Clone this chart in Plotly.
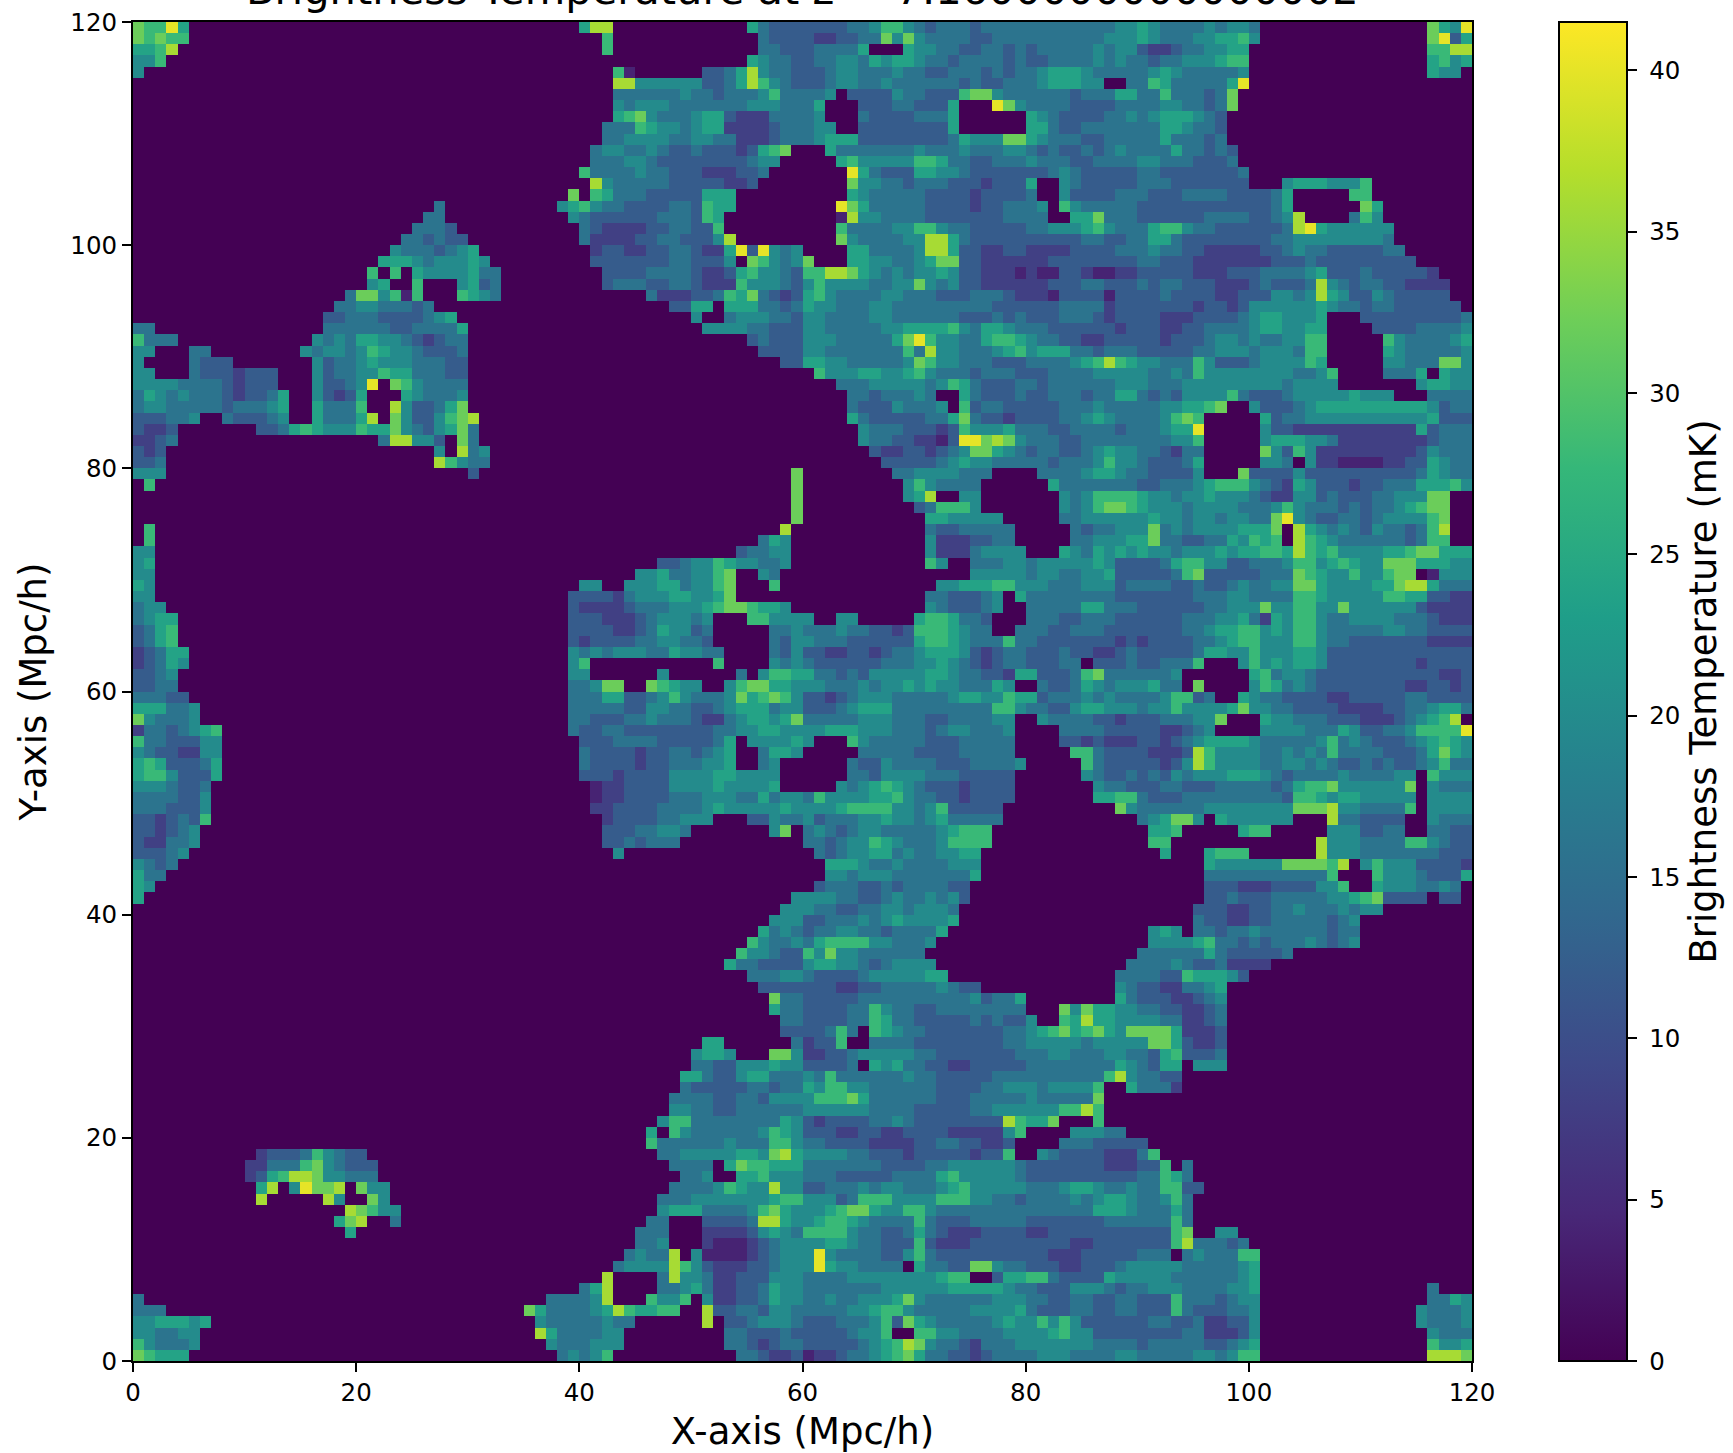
import plotly.graph_objects as go

# Brightness temperature levels, one text row per map row
# (top row first). Twelve blocks of ten cells per row, "-" = a block with nothing.
# '.' = 0 mK, digits/letter = level in steps of 4 mK (a = 40 mK).
rows_top = [
"877a6..... - - - 699....... .....64333 3333445775 4344434444 4444444455 6544445455 4......... ......865a",
"87877..... - - - ..7....... ......4333 3223344858 5444433444 4444444555 6544455667 5......... ......8a36",
"6679...... - - - ..7....... ......4433 344446...6 5544334434 3444445455 3223445566 - ......7799",
"557....... - - - - .....65443 3445546566 5443444434 3344445454 4344555677 - ......6756",
"5......... - - - ...71..... .334695443 3345544454 4334443434 4566654444 4565444445 - ......655.",
"- - - - ...9955555 5334697543 3345544544 4444343344 4566655..4 476444446a - -",
"- - - - ...4444445 4434445744 445.333354 4333788544 4444344466 447444348. - -",
"- - - - ...5455544 4444455544 46...33344 3336...a85 4444333344 445544348. - -",
"- - - - ...6785444 5663222444 45...43333 4446...... 6543333445 45666543.. - -",
"- - - - ..44476554 5662222344 455..33333 3336...... 6643344444 44665443.. - -",
"- - - - ..44555544 5544222344 4566633333 3334655588 6544433444 44644434.. - -",
"- - - - .455445433 433323678. ..64444444 5444544455 4343343454 444644343. - -",
"- - - - .444554333 33333455.. ...6755555 7764433444 5444334444 554443334. - -",
"- - - - 7444454433 3222334... ....a64333 6655433333 3345433333 4433333334 - -",
"- - - - .954444433 333223.... ....855443 4443332333 6..5433333 4443333333 ...5666555 7.........",
"- - - .........8 .764443333 3666...... ....654444 4333323333 4..5333344 4333444433 3346.....7 7.........",
"- - .......4.. ........56 7544333344 3766...... ...a864444 4333323344 45.7544444 3333333333 3346...... 86........",
"- - ......44.. .........5 4333333444 376....... ...1955444 4333333344 44..668444 3333334444 33459....4 75........",
"- - .....4443. - 4322223344 337....... ...7444455 7754433333 4455567544 4677544333 33349a6555 555.......",
"- - ....443433 - 4222233443 3359...... ...8544445 5996433333 3333344334 4664333333 3344555555 554.......",
"- - ...5444345 6......... .233223344 3226a3a545 ....664444 5996332233 2222333344 4544332222 2334544333 3344......",
"- - ..66654555 65........ .333333344 3335.87545 8...665544 5688332222 2233333333 4433322222 2233343333 33333.....",
"- - .7.7.65555 644....... ..33334444 3223675543 7799865454 5565332221 2113321122 3333322233 3444456333 4333332...",
"- - .56..7...5 634....... ..34443344 3222755543 5755554455 8545332222 2233344333 4344333222 3433349543 44332222..",
"- .........4 885717...7 654....... ......4222 3347684323 6754444554 4433344432 2213333133 3343333223 3355459653 35433333..",
"- ........44 5544434... - ........33 66.6664434 6554445544 4444444333 3334444233 3333323323 5555556544 344333333.",
"- .......334 443333456. - - 5..4555443 5544445544 4444333434 3334443233 3322233334 5665556... 3333333334",
"44........ .......444 4443344446 - - .555544333 5544444556 6667546654 4433333323 3322334444 5665566... .333344445",
"7444...... ......5454 6655432344 - - .....34333 5554444468 a755446776 5443322333 3323334554 5445577... ..75444456",
"55...44... .....54554 5765543334 - - ......3333 5544444447 4955444567 5666443444 3333344555 4555477... ..65444445",
]
rows_upper_mid = [
"5....4333. ......5344 5655544433 - - ........33 6655444445 8755444333 4444567976 5544475333 4555576... ..55444885",
"55...43332 333...5344 5576644433 - - - .755566556 7544434443 3344445555 5445475555 55554457.. ..4446.655",
"5555444432 333...5334 5a.8754444 - - - ...4445555 5457643334 4344444455 5444555555 55545555.. .....56655",
"4654544432 3346..5323 6...654445 - - - ....443444 54..643334 3344434466 4343555574 3334555556 555...4444",
"4554444434 4456..6444 7..9533468 - - - ....433354 445.734433 3334445444 44556678.. 5333456666 6666665344",
"333445..43 3345..6444 69.8533578 9......... - - ....643333 3446843323 3334456544 445787.... .634455555 5555556333",
"3223...... .334676555 7668543568 4......... - - .....54443 3323755564 4433444434 44566a.... .533222222 2222263444",
"2234...... - ..499553.8 4......... - - .....54433 2213aa8985 4443344444 444557.... .566655422 2222223444",
"323....... - .......5.9 45........ - - ......3223 3234588654 3443345655 443244.... .853752222 2222235444",
"334....... - .......975 44........ - - .......333 3345655444 4434445755 433346.... .554.52211 1122336544",
"555....... - - 3......... - .........8 ........44 5555444... .444456654 433335...8 3333533333 3333346544",
".7........ - - - - .........8 .........5 754444.... ..64444444 3344456777 5432653332 3344466675",
"- - - - - .........8 .........5 69..55.... ...5457777 6554556555 4322553433 34455588..",
"- - - - - .........8 .......... 347775.... ...5457887 6555455554 4457544434 34456788..",
"- - - - - .........8 .......... .6655555.. ...4455555 5655455455 448a543344 34555578..",
".7........ - - - - ........9. .......... .43344444. ....434455 5845455556 668.965454 35443479..",
".7........ - - - - ......465. .......... .52223344. ....445556 6844334465 767.976544 44443477..",
"55........ - - - - ....34455. .......... .522245555 ...6546565 6554555656 6776976755 5566788666",
"56........ - - - .......334 557655445. .......... .75..44455 4555556533 3346775533 4445775676 5588866655",
"55........ - - - .....55644 5578..54.. .......... .....55555 4554455633 3334783333 3444876557 55788.1555",
"65........ - - - 55..555664 5578...7.. .......... ..55666775 5544455534 4443343345 4455886555 5668996444",
"55........ - - .........3 3332455566 5568...... .......... .4433345.6 4444444433 3333344455 4444776555 5577663322",
"455....... - - .........3 2222344455 567887665. .......... .5433345.. 4444466444 3333334455 5855775585 5555532222",
"4566...... - - .........3 3322234555 45...77555 5..55..... 6776443... 4443344433 3333444556 4265775445 5554443222",
"3467...... - - .........3 3332234655 34.....445 4445443323 7776544..4 4433444333 3333445667 7565775444 4455443333",
"3467...... - - .........3 2333344554 43.....435 5444333333 6776544474 4333333323 2333344567 7555775443 3333332222",
"23466..... - - .........5 4545554465 544....435 3322332344 5666532344 3334332234 3333346655 7555665333 3333333333",
"23465..... - - .........5 7......... ..7....545 4333333444 5565432344 33344.3334 334447...5 7565665333 3333323333",
"3345...... - - .........5 5......5.. ....4.5776 6443435555 5665443326 6333478444 4445...... 6745543333 3333333223",
"3344...... - - .........4 4588..8765 5..5788665 5544454556 565544465. .433465455 5644.8.... 5764543333 3333223323",
]
rows_lower_mid = [
"44433..... - - .........4 4466334575 4445867875 3323455544 4445665576 6344454544 4457734..6 5443333223 3333443333",
"666445.... - - .........4 4444335544 3345666455 3334566644 4444444775 4433566555 4557555568 5544333322 2233445664",
"854445.... - - .........4 4333445444 3224566568 4444455544 433444455. .544443323 33444558.. .655444333 222345679.",
"24434567.. - - .........4 3344333333 3344556655 5566655544 434554445. ...4444333 3322345... .555544465 334457777a",
"74433355.. - - - 3334444333 3346.55556 5...754444 433344444. ...3323222 3323456666 5444445745 4333456765",
"54332255.. - - - 4333323344 3456..4665 .....44444 333344444. ....774333 3222397555 5445454744 4433346865",
"67633346.. - - - 4333323344 4556..45.. ....433544 4433344445 .....74333 3323597555 5445545433 4343345744",
"67753336.. - - - 3332333355 55665555.. ....443555 544433333. .....54334 3435455566 6543444454 44455.7555",
"5554334... - - - .122333355 55655556.. ...5456765 433323333. ......5443 3344333444 4434677855 55558.5444",
"4444335... - - - .122333344 4555446455 4755556675 443323333. ......6677 4333444444 4443776566 55555.5555",
"4443335... - - - .223333444 4565555565 5556777755 45733333.. ........85 4444445555 5555888955 44447.5555",
"3323437... - - - ..23333445 55...33544 5344455655 45644444.. - 456885.655 5555...944 3333..5444",
"332345.... - - - ..33344554 .......58. 4543455444 4456777... - .667.....6 77.....555 3344..4433",
"322445.... - - - ..3343444. - 4434557654 4457777... - .77....... ......9555 4444775433",
"33345..... - - - ...5...... - .434556645 445566.... - ..6...6777 ......9555 4444444333",
"5434...... - - - - - ..66654454 444555.... - ......6555 555888879. 5755533332",
"644....... - - - - - ..55455544 444446.... - ......4444 44444447.. .755543336",
"65........ - - - - - .344433434 44433..... - ......3332 223333557. .65554454.",
"6......... - - - - .........5 5554433454 45453..... - ......3343 3344444556 783333.33.",
"- - - - - ........55 5443344554 5554...... - .....33322 3344544454 55........",
"- - - - - .......555 3344454565 5556...... - .....43322 3344444345 -",
"- - - - - ......6454 3445544344 446....... - .565.44344 5444444344 -",
"- - - - - .....75445 4677775544 45........ - .555567443 4344454345 -",
"- - - - - ....755433 7585544444 4......... - 4444446433 3334...... -",
"- - - - - ...6443333 5665543455 55........ .........4 4445433422 22........ -",
"- - - - - .....44455 4333345555 566....... ........44 4433766653 - -",
"- - - - - ......3333 3332233444 445433.... ........54 33224456.. - -",
"- - - - - .......844 3333344444 4444453446 ........64 33322345.. - -",
"- - - - - .......644 3333447544 3344444444 ...8586655 44332234.. - -",
"- - - - - ........44 3333447644 3333343433 5..7696655 55442234.. - -",
]
rows_bottom = [
"- - - - - ........33 33474.7654 4333333344 5678678658 88862223.. - -",
"- - - - - .66......4 2337..4444 3333333344 5555545555 58863223.. - -",
"- - - - - 5665...885 2233455555 4433333334 4455444554 43673334.. - -",
"- - - - - 4433555655 33334.6564 4332233333 4444444465 4366.555.. - -",
"- - - - .........6 6433566444 5474444445 4433333444 4444444795 4433...... - -",
"- - - - .........4 3333344344 6577554444 4433334455 5455557..6 4442...... - -",
"- - - - ........44 4433443555 5777864444 4433344444 5444448... - - -",
"- - - - ........55 4433444444 5555554444 3333344555 5557797... - - -",
"- - - - .......577 4444444465 3233334454 3333333397 668...7... - - -",
"- - - - ......6.75 4444445765 3332233223 3332222257 ....55544. - - -",
"- - - - ......7444 4445444775 4433332222 334433223. ...4443333 3......... - -",
"- .233347543 3......... - .......445 5555665896 5555443332 333332337. .543333222 47........ - -",
"- 2244478543 33........ - ........44 44.6877666 4444444333 3445555554 3333333222 337.4..... - -",
"- 2367998554 44........ - .........4 45..667555 4443333344 4467555554 3333333333 44764..... - -",
"- .69.5a889. 855....... - ........44 4457655955 3344454554 4456755555 4445665445 447733.... - -",
"- .9.....95. .85....... - .......444 5555555677 5553477755 5577755443 4444545665 44574..... - -",
"- .........9 8755...... - .......566 6444457865 5567886557 7544444444 4444446665 44464..... - -",
"- ........68 9..4...... - ......44.. .333349965 5677654444 7433344444 3333333444 44474..... - -",
"- .........6 - - .....444.. .222235654 7777544334 6432223333 2233333333 33378..55. - -",
"- - - - .....445.. .211123455 5566544333 7322233333 3333223333 3337944434 - -",
"- - - - ....45449. 5111123455 5a54444335 7433333333 3322233333 444.454447 7......... -",
"- - - - ...4555597 5322233455 5a6554444. 6443388544 3332233345 5555444445 6......... -",
"- - - - ..9....495 5422333555 4444555555 55677..366 7743333655 5554444445 6......... -",
"- - - - 469....445 6422334655 4444444555 5556666654 4333555434 4555444455 6......... ......4...",
"4......... - - .......444 459...7557 .522334655 4454455568 5444444555 4433443344 3337444345 5......... ......4465",
"444....... - - .....86444 456976677. .933443554 4444556775 4444455556 4333443344 3337433344 5......... .....54445",
"5566656... - - ......5444 44544..... .9.3345554 3334445738 6544444565 5757533333 3443342233 5......... .....54445",
"554455.... - - ......9644 4455...... ...4433343 33334557.. 7755444455 5567553333 3333442223 5......... ......5444",
"754445.... - - .......544 4555...... ...4432344 3333345679 8544324445 5555554444 3444443345 6......... ......7556",
"87666..... - - ........45 457....... ....443223 1223445678 6443323444 4555444455 4444455457 7......... ......9998",
]

level_mk = {".": 0.0, "1": 4.0, "2": 8.0, "3": 12.0, "4": 16.0, "5": 20.0,
            "6": 24.0, "7": 28.0, "8": 32.0, "9": 36.0, "a": 40.0}
cell_centres = [0.5 + i for i in range(120)]

axis_ticks = [0, 20, 40, 60, 80, 100, 120]
colour_ticks = [0, 5, 10, 15, 20, 25, 30, 35, 40]
colour_labels = ["0", "5", "10", "15", "20", "25", "30", "35", "40"]
colour_max = 41.5
title_text = "Brightness Temperature at z = 7.1600000000000002"
x_title = "X-axis (Mpc/h)"
y_title = "Y-axis (Mpc/h)"
cbar_title = "Brightness Temperature (mK)"


def parse(row):
    text = "".join("." * 10 if b == "-" else b for b in row.split(" "))
    text = (text + "." * 120)[:120]
    return [level_mk[ch] for ch in text]


z = [parse(r) for r in rows_top + rows_upper_mid + rows_lower_mid + rows_bottom]
z.reverse()

W, H = 1733, 1453
L, R, T, B = 133, 1472, 22, 1361
FONT = "DejaVu Sans"

fig = go.Figure(go.Heatmap(
    z=z, x=cell_centres, y=cell_centres, zmin=0, zmax=colour_max,
    colorscale="Viridis", zsmooth=False,
    colorbar=dict(
        x=(1559 - L) / (R - L), xanchor="left", thickness=68, thicknessmode="pixels",
        y=0, yanchor="bottom", len=1, lenmode="fraction", xpad=0, ypad=0,
        tickvals=colour_ticks, ticktext=["\u00a0" + s for s in colour_labels],
        ticks="outside", ticklen=9, tickwidth=2, tickcolor="black",
        outlinewidth=2, outlinecolor="black", tickfont=dict(family=FONT, size=24.5, color="black"),
        title=dict(text=cbar_title, side="right", font=dict(family=FONT, size=37, color="black")),
    ),
))

axis = dict(range=[0, 120], tickvals=axis_ticks, ticks="outside", ticklen=9, tickwidth=2,
            tickcolor="black", showline=True, linecolor="black", linewidth=2, mirror=True,
            showgrid=False, zeroline=False, tickfont=dict(family=FONT, size=24.5, color="black"))

fig.update_layout(
    width=W, height=H, autosize=False, paper_bgcolor="white", plot_bgcolor="white",
    margin=dict(l=L, r=W - R, t=T, b=H - B, autoexpand=False),
    xaxis=dict(axis, title=dict(text=x_title, standoff=14, font=dict(family=FONT, size=37, color="black"))),
    yaxis=dict(axis, title=dict(text=y_title, standoff=12, font=dict(family=FONT, size=37, color="black"))),
    annotations=[dict(text=title_text, xref="paper", yref="paper", x=0.5, y=1.0,
                      yshift=6, xanchor="center", yanchor="bottom", showarrow=False,
                      font=dict(family=FONT, size=41.6, color="black"))],
)
fig.write_html("out.html", config={"displayModeBar": False},
               post_script="document.body.style.margin='0';")
